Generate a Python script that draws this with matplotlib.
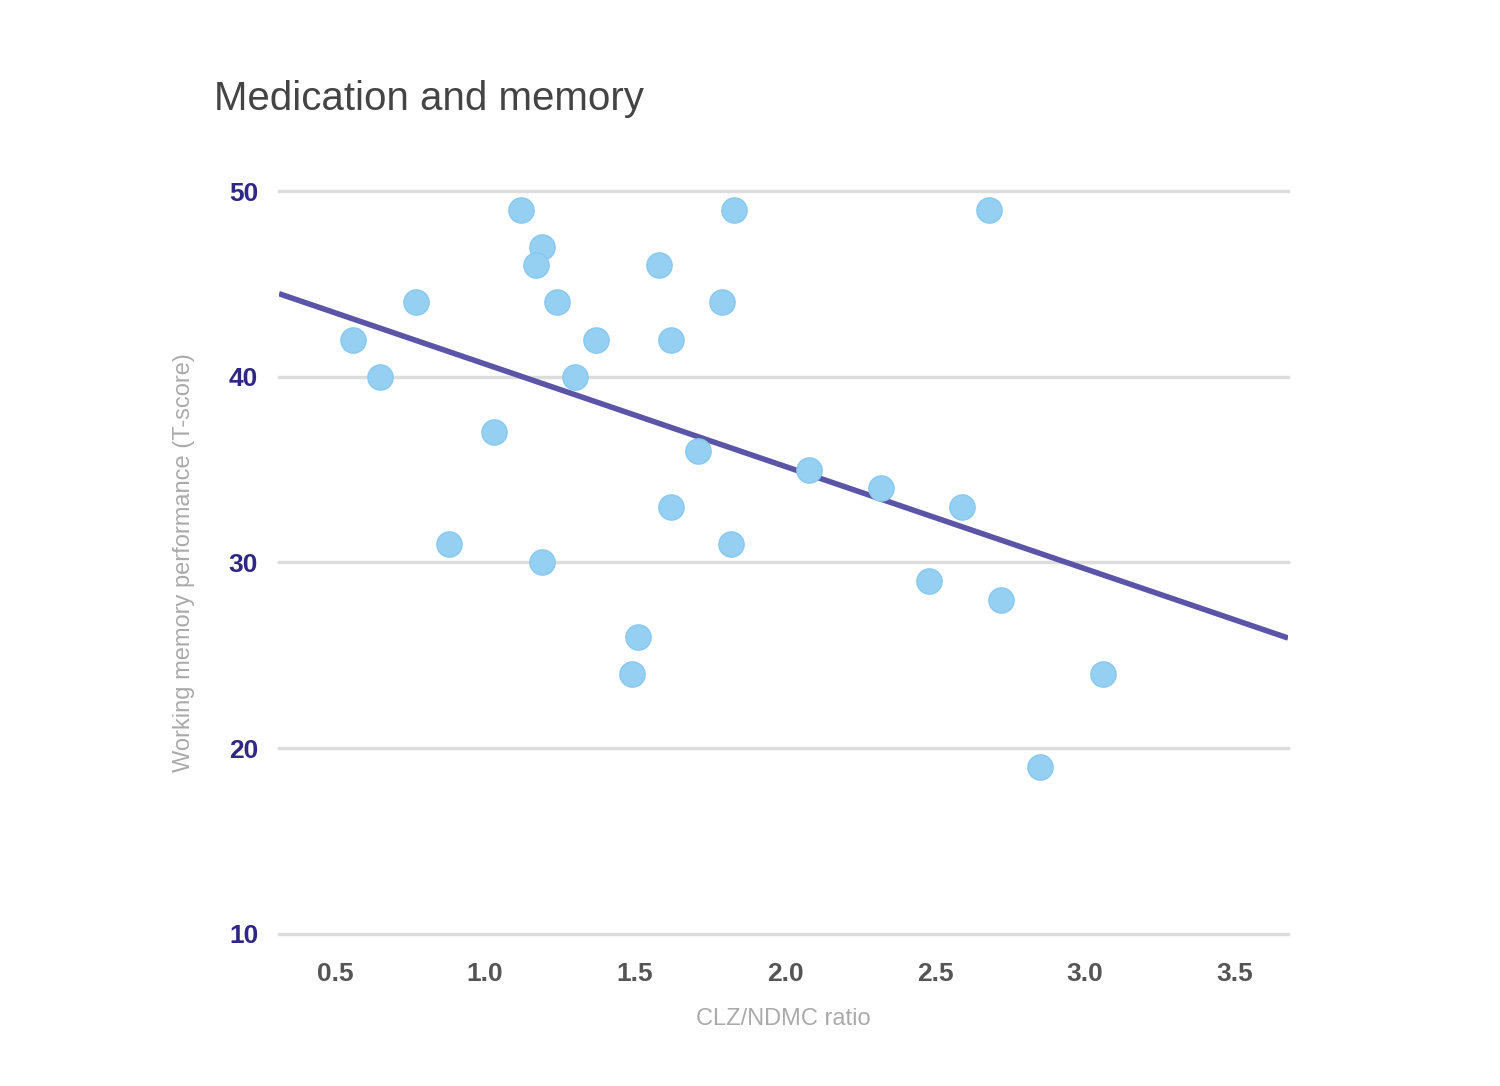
import numpy as np
import matplotlib.pyplot as plt

plt.rcParams['font.family'] = ['Liberation Sans', 'DejaVu Sans']

# CLZ/NDMC ratio vs working memory T-score
ratio = [0.56, 0.65, 0.77, 0.88, 1.03, 1.12, 1.19, 1.17, 1.19, 1.24,
         1.30, 1.37, 1.51, 1.49, 1.58, 1.62, 1.62, 1.71, 1.79, 1.83,
         1.82, 2.08, 2.32, 2.48, 2.59, 2.68, 2.72, 2.85, 3.06]
score = [42, 40, 44, 31, 37, 49, 47, 46, 30, 44,
         40, 42, 26, 24, 46, 42, 33, 36, 44, 49,
         31, 35, 34, 29, 33, 49, 28, 19, 24]

x_ticks = [0.5, 1.0, 1.5, 2.0, 2.5, 3.0, 3.5]
y_ticks = [10, 20, 30, 40, 50]

fig = plt.figure(figsize=(15, 10.86), dpi=100)
ax = fig.add_axes([0.186, 0.140, 0.6727, 0.6841])

xmin, xmax = 0.313, 3.677
ax.set_xlim(xmin, xmax)
ax.set_ylim(10, 50)

for yt in y_ticks:
    ax.axhline(yt, color='#dddddd', lw=2.5, zorder=0, clip_on=False)

# fitted trend line
slope, icpt = np.polyfit(ratio, score, 1)
xs = np.array([xmin, xmax])
ax.plot(xs, slope * xs + icpt, color='#5a55a6', lw=4, zorder=2,
        solid_capstyle='butt')

ax.scatter(ratio, score, s=330, color='#95d0f2', edgecolor='#88c8ef',
           linewidth=1, zorder=3, clip_on=False)

ax.set_xticks(x_ticks)
ax.set_xticklabels([f'{v:.1f}' for v in x_ticks], fontsize=19,
                   fontweight='bold', color='#555555')
ax.set_yticks(y_ticks)
ax.set_yticklabels([str(v) for v in y_ticks], fontsize=19,
                   fontweight='bold', color='#2e2882')
ax.tick_params(length=0)
ax.tick_params(axis='x', pad=20)
ax.tick_params(axis='y', pad=15)
for s in ax.spines.values():
    s.set_visible(False)

ax.set_xlabel('CLZ/NDMC ratio', fontsize=17, color='#aaaaaa', labelpad=16)
ax.set_ylabel('Working memory performance (T-score)', fontsize=17,
              color='#aaaaaa', labelpad=24)

fig.text(0.143, 0.909, 'Medication and memory', fontsize=29,
         color='#444444', va='center', ha='left')

fig.savefig('out.png', dpi=100, facecolor='white')
